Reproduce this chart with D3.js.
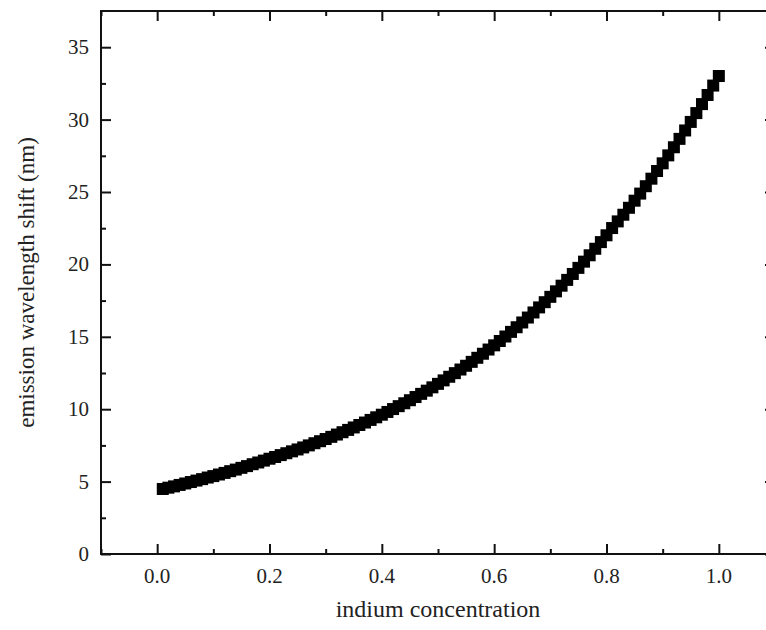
<!DOCTYPE html>
<html lang="en">
<head>
    <meta charset="UTF-8">
    <title>Emission wavelength shift</title>
    <script src="https://d3js.org/d3.v7.min.js"></script>
    <style>
        body { margin: 0; background: #fff; }
    </style>
</head>
<body>
<div id="chart"></div>
<script>
    // indium concentration (x) and emission wavelength shift in nm (y)
    var indium = [];
    for (var i = 1; i <= 100; i++) indium.push(+(i / 100).toFixed(2));

    var shift = [
        4.49, 4.58, 4.67, 4.77, 4.87, 4.97, 5.07, 5.17, 5.28, 5.38,
        5.49, 5.60, 5.72, 5.83, 5.95, 6.07, 6.20, 6.32, 6.45, 6.58,
        6.70, 6.83, 6.96, 7.09, 7.22, 7.36, 7.50, 7.65, 7.79, 7.94,
        8.09, 8.25, 8.41, 8.57, 8.74, 8.91, 9.08, 9.26, 9.44, 9.62,
        9.81, 10.01, 10.21, 10.41, 10.62, 10.84, 11.06, 11.28, 11.51, 11.75,
        11.99, 12.24, 12.49, 12.74, 13.00, 13.27, 13.55, 13.83, 14.12, 14.41,
        14.71, 15.02, 15.34, 15.66, 15.99, 16.33, 16.68, 17.03, 17.39, 17.76,
        18.14, 18.53, 18.93, 19.34, 19.76, 20.19, 20.63, 21.08, 21.54, 22.01,
        22.51, 22.97, 23.43, 23.91, 24.40, 24.89, 25.40, 25.92, 26.45, 26.98,
        27.53, 28.09, 28.67, 29.25, 29.84, 30.45, 31.07, 31.70, 32.35, 33.01
    ];

    var xMajor = [0.0, 0.2, 0.4, 0.6, 0.8, 1.0];
    var xMinor = [-0.1, 0.1, 0.3, 0.5, 0.7, 0.9, 1.1];
    var yMajor = [0, 5, 10, 15, 20, 25, 30, 35];
    var yMinor = [2.5, 7.5, 12.5, 17.5, 22.5, 27.5, 32.5];

    var data = indium.map(function (d, i) {
        return {x: d, y: shift[i]};
    });

    var W = 766, H = 630;
    var pl = 101, pt = 11, pr = 775, pb = 554;
    var serif = "'Liberation Serif', Tinos, 'Times New Roman', 'DejaVu Serif', serif";

    var svg = d3.select("#chart").append("svg")
        .attr("width", W)
        .attr("height", H)
        .attr("font-family", serif);

    var x = d3.scaleLinear().domain([-0.1, 1.1]).range([pl, pr]);
    var y = d3.scaleLinear().domain([0, 37.5]).range([pb, pt]);

    // points
    var size = 12;
    svg.append("g").selectAll("rect")
        .data(data)
        .enter().append("rect")
        .attr("x", function (d) { return x(d.x) - size / 2; })
        .attr("y", function (d) { return y(d.y) - size / 2; })
        .attr("width", size)
        .attr("height", size)
        .attr("fill", "#000");

    // inward ticks on all four sides
    function ticks(g, axis, values, len) {
        g.call(axis.tickValues(values).tickSize(-len).tickFormat(""))
            .call(function (s) { s.select(".domain").remove(); })
            .selectAll("line").attr("stroke", "#111").attr("stroke-width", 2);
    }

    var bx = svg.append("g").attr("transform", "translate(0," + pb + ")");
    ticks(bx.append("g"), d3.axisBottom(x), xMajor, 10);
    ticks(bx.append("g"), d3.axisBottom(x), xMinor, 5);
    var tx = svg.append("g").attr("transform", "translate(0," + pt + ")");
    ticks(tx.append("g"), d3.axisTop(x), xMajor, 10);
    ticks(tx.append("g"), d3.axisTop(x), xMinor, 5);
    var ly = svg.append("g").attr("transform", "translate(" + pl + ",0)");
    ticks(ly.append("g"), d3.axisLeft(y), yMajor, 10);
    ticks(ly.append("g"), d3.axisLeft(y), yMinor, 5);
    var ry = svg.append("g").attr("transform", "translate(" + pr + ",0)");
    ticks(ry.append("g"), d3.axisRight(y), yMajor, 10);
    ticks(ry.append("g"), d3.axisRight(y), yMinor, 5);

    // frame
    svg.append("rect")
        .attr("x", pl).attr("y", pt)
        .attr("width", pr - pl).attr("height", pb - pt)
        .attr("fill", "none").attr("stroke", "#111").attr("stroke-width", 2);

    // tick labels
    svg.append("g").selectAll("text")
        .data(xMajor)
        .enter().append("text")
        .attr("x", function (d) { return x(d); })
        .attr("y", pb + 29)
        .attr("text-anchor", "middle")
        .attr("font-family", serif)
        .attr("fill", "#222")
        .style("font-size", "21px")
        .text(function (d) { return d.toFixed(1); });

    svg.append("g").selectAll("text")
        .data(yMajor)
        .enter().append("text")
        .attr("x", pl - 12)
        .attr("y", function (d) { return y(d) + 7; })
        .attr("text-anchor", "end")
        .attr("font-family", serif)
        .attr("fill", "#222")
        .style("font-size", "21px")
        .text(function (d) { return d; });

    // axis titles
    svg.append("text")
        .attr("x", 438)
        .attr("y", 617)
        .attr("text-anchor", "middle")
        .attr("font-family", serif)
        .attr("fill", "#222")
        .style("font-size", "24px")
        .text("indium concentration");

    svg.append("text")
        .attr("transform", "translate(34," + ((pt + pb) / 2) + ")rotate(-90)")
        .attr("text-anchor", "middle")
        .attr("font-family", serif)
        .attr("fill", "#222")
        .style("font-size", "23px")
        .text("emission wavelength shift (nm)");
</script>
</body>
</html>
